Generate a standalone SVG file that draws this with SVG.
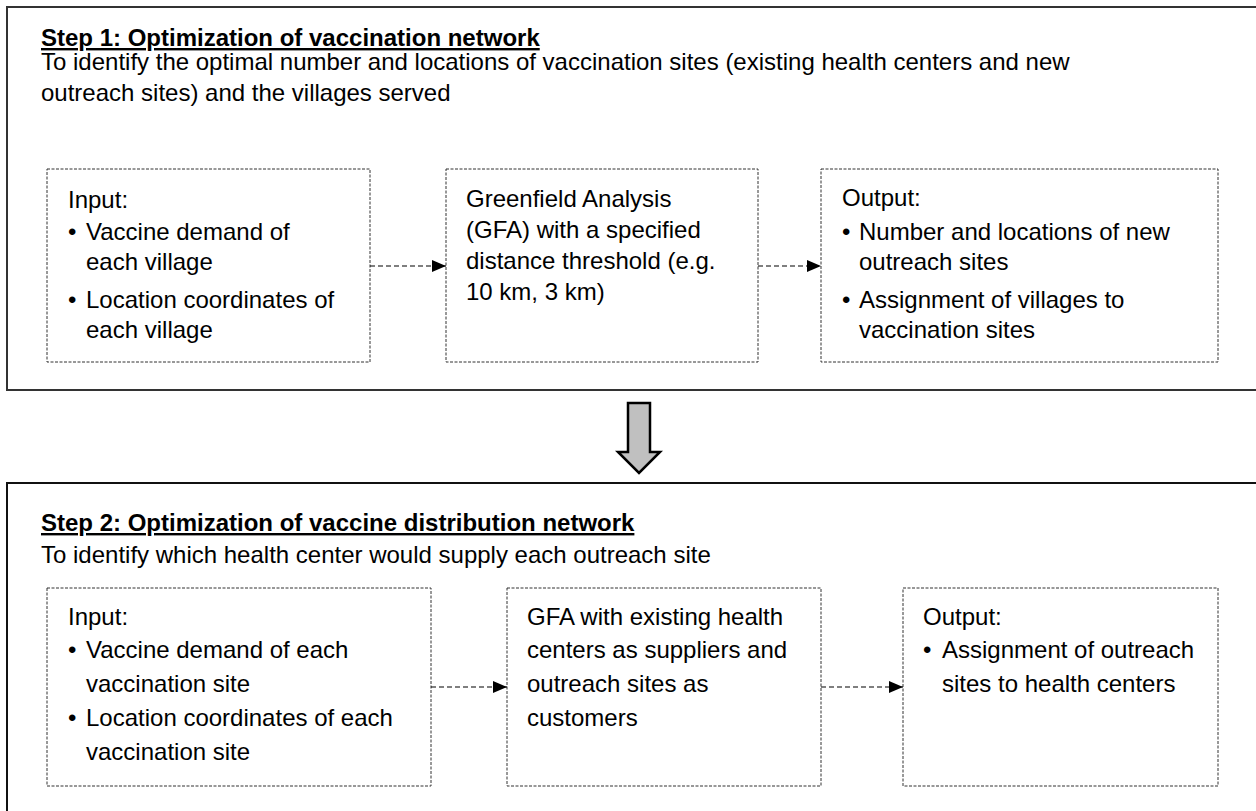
<svg xmlns="http://www.w3.org/2000/svg" width="1256" height="811" viewBox="0 0 1256 811">
<style>
text{font-family:"Liberation Sans",Arial,sans-serif;font-size:24px;fill:#000}
.title{font-weight:bold;text-decoration:underline}
.outer{fill:none;stroke:#333;stroke-width:2}
.inner{fill:#fff;stroke:#333;stroke-width:1;stroke-dasharray:3 1.5}
.conn{stroke:#000;stroke-width:1.2;stroke-dasharray:5 3;fill:none}
</style>
<defs>
<marker id="ah" markerWidth="14" markerHeight="12" refX="14" refY="6" orient="auto" markerUnits="userSpaceOnUse">
<path d="M0,0 L14,6 L0,12 Z" fill="#000"/>
</marker>
</defs>
<rect fill="#fff" x="0" y="0" width="1256" height="811"/>
<g id="step1">
<rect class="outer" x="7" y="7" width="1262" height="383"/>
<text class="title" x="41" y="46">Step 1: Optimization of vaccination network</text>
<text x="41" y="70">To identify the optimal number and locations of vaccination sites (existing health centers and new</text>
<text x="41" y="101">outreach sites) and the villages served</text>
</g>
<g id="input1">
<rect class="inner" x="47" y="169" width="323" height="193"/>
<text x="68" y="208">Input:</text>
<text x="68" y="240">•</text><text x="86" y="240">Vaccine demand of</text>
<text x="86" y="270">each village</text>
<text x="68" y="308">•</text><text x="86" y="308">Location coordinates of</text>
<text x="86" y="338">each village</text>
</g>
<g id="gfa1">
<rect class="inner" x="446" y="169" width="312" height="193"/>
<text x="466" y="207">Greenfield Analysis</text>
<text x="466" y="238">(GFA) with a specified</text>
<text x="466" y="269">distance threshold (e.g.</text>
<text x="466" y="300">10 km, 3 km)</text>
</g>
<g id="output1">
<rect class="inner" x="821" y="169" width="397" height="193"/>
<text x="842" y="206">Output:</text>
<text x="842" y="240">•</text><text x="859" y="240">Number and locations of new</text>
<text x="859" y="270">outreach sites</text>
<text x="842" y="308">•</text><text x="859" y="308">Assignment of villages to</text>
<text x="859" y="338">vaccination sites</text>
</g>
<g id="bigarrow">
<path d="M628,403 L650,403 L650,452 L660,452 L639,473 L618,452 L628,452 Z" fill="#c0c0c0" stroke="#000" stroke-width="2.5" stroke-linejoin="miter"/>
</g>
<g id="step2">
<rect class="outer" x="7" y="483" width="1262" height="340" style="stroke:#111"/>
<text class="title" x="41" y="531">Step 2: Optimization of vaccine distribution network</text>
<text x="41" y="563">To identify which health center would supply each outreach site</text>
</g>
<g id="input2">
<rect class="inner" x="47" y="588" width="384" height="198"/>
<text x="68" y="625">Input:</text>
<text x="68" y="658">•</text><text x="86" y="658">Vaccine demand of each</text>
<text x="86" y="692">vaccination site</text>
<text x="68" y="726">•</text><text x="86" y="726">Location coordinates of each</text>
<text x="86" y="760">vaccination site</text>
</g>
<g id="gfa2">
<rect class="inner" x="507" y="588" width="314" height="198"/>
<text x="527" y="625">GFA with existing health</text>
<text x="527" y="658">centers as suppliers and</text>
<text x="527" y="692">outreach sites as</text>
<text x="527" y="726">customers</text>
</g>
<g id="output2">
<rect class="inner" x="903" y="588" width="315" height="198"/>
<text x="923" y="625">Output:</text>
<text x="923" y="658">•</text><text x="942" y="658">Assignment of outreach</text>
<text x="942" y="692">sites to health centers</text>
</g>
<g id="connectors">
<line class="conn" x1="370" y1="266" x2="446" y2="266" marker-end="url(#ah)"/>
<line class="conn" x1="758" y1="266" x2="821" y2="266" marker-end="url(#ah)"/>
<line class="conn" x1="431" y1="687" x2="507" y2="687" marker-end="url(#ah)"/>
<line class="conn" x1="821" y1="687" x2="903" y2="687" marker-end="url(#ah)"/>
</g>
</svg>
